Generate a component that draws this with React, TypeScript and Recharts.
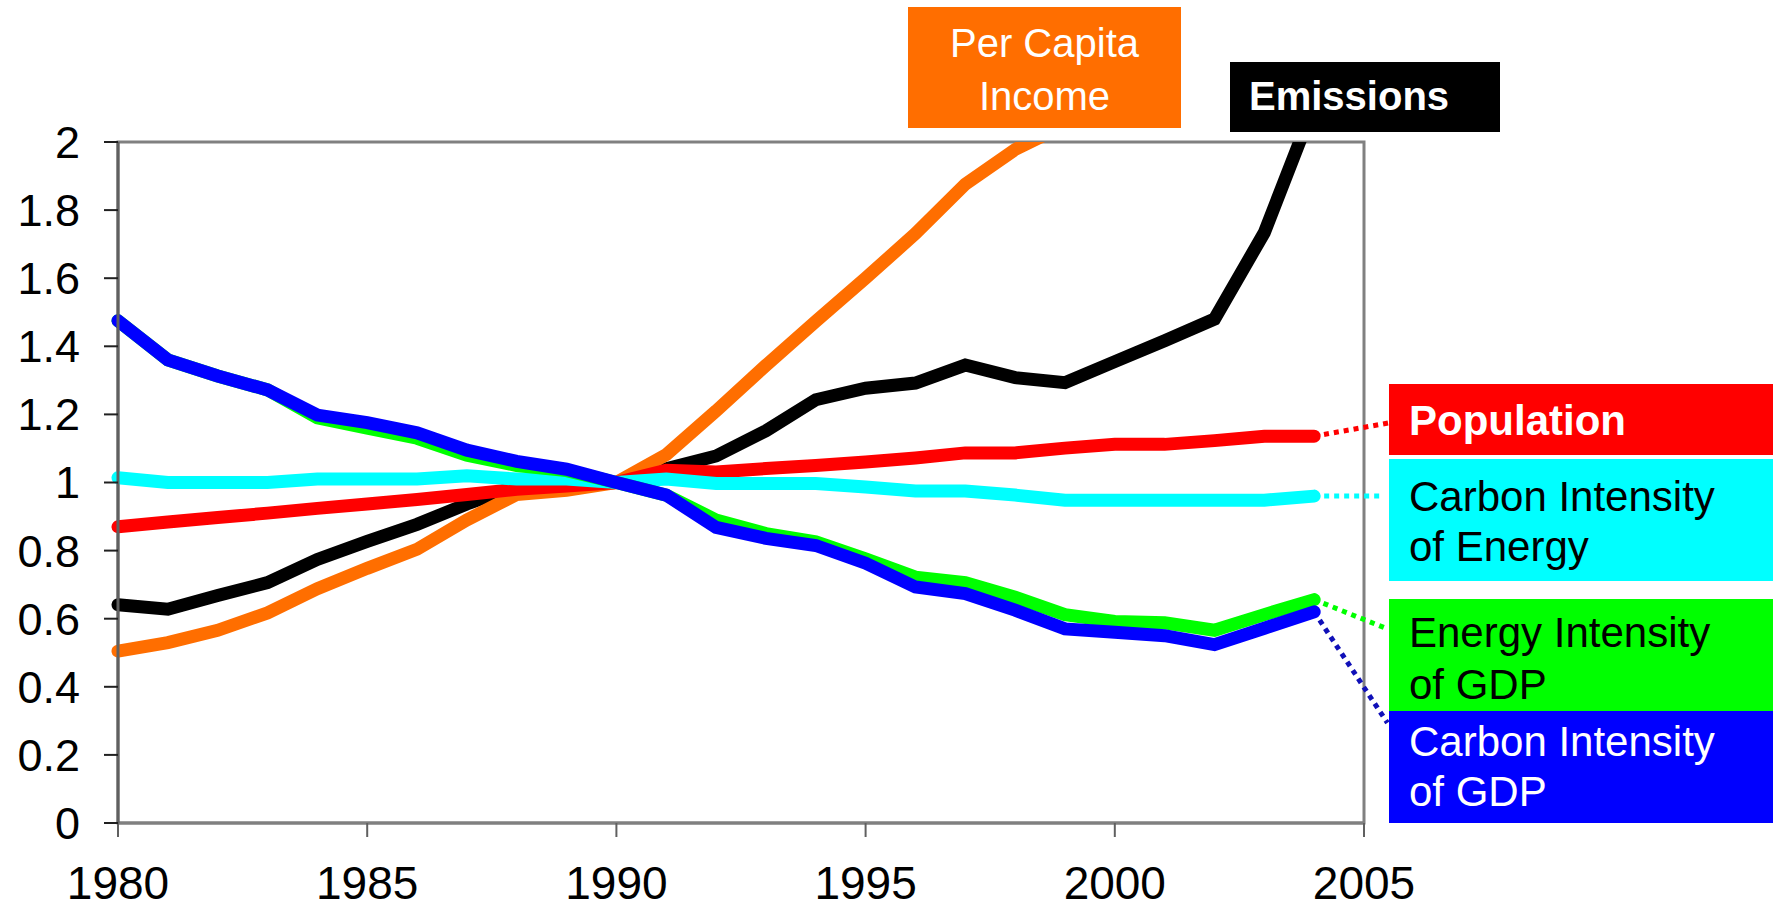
import React from "react";
import { LineChart, Line, XAxis, YAxis, ReferenceArea, ReferenceLine } from "recharts";

const years = [1980, 1981, 1982, 1983, 1984, 1985, 1986, 1987, 1988, 1989, 1990, 1991, 1992, 1993, 1994, 1995, 1996, 1997, 1998, 1999, 2000, 2001, 2002, 2003, 2004];

const emissions = [0.641, 0.628, 0.668, 0.706, 0.774, 0.827, 0.877, 0.937, 0.99, 0.995, 1.0, 1.04, 1.078, 1.152, 1.243, 1.277, 1.292, 1.345, 1.308, 1.293, 1.355, 1.416, 1.48, 1.734, 2.11];
const perCapitaIncome = [0.505, 0.53, 0.566, 0.617, 0.688, 0.748, 0.804, 0.89, 0.965, 0.977, 1.0, 1.082, 1.21, 1.344, 1.473, 1.6, 1.731, 1.876, 1.978, 2.05, null, null, null, null, null];
const population = [0.87, 0.884, 0.897, 0.91, 0.924, 0.937, 0.95, 0.965, 0.98, 0.99, 1.0, 1.036, 1.031, 1.041, 1.05, 1.06, 1.072, 1.087, 1.087, 1.101, 1.112, 1.112, 1.123, 1.136, 1.136];
const carbonIntensityEnergy = [1.014, 1.0, 1.0, 1.0, 1.01, 1.01, 1.01, 1.02, 1.01, 1.01, 1.0, 1.01, 0.997, 0.997, 0.997, 0.987, 0.975, 0.975, 0.963, 0.948, 0.948, 0.948, 0.948, 0.948, 0.96];
const energyIntensityGDP = [1.475, 1.36, 1.313, 1.272, 1.19, 1.16, 1.13, 1.08, 1.05, 1.035, 1.0, 0.963, 0.89, 0.85, 0.826, 0.776, 0.722, 0.706, 0.663, 0.612, 0.592, 0.588, 0.566, 0.612, 0.656];
const carbonIntensityGDP = [1.475, 1.36, 1.313, 1.272, 1.198, 1.176, 1.146, 1.095, 1.062, 1.039, 1.0, 0.963, 0.868, 0.836, 0.815, 0.763, 0.693, 0.674, 0.625, 0.57, 0.56, 0.55, 0.524, 0.572, 0.62];

const xTicks = [1980, 1985, 1990, 1995, 2000, 2005];
const yTicks = [0, 0.2, 0.4, 0.6, 0.8, 1, 1.2, 1.4, 1.6, 1.8, 2];

// leader lines: last data point -> label box edge (data units)
const leaderTargets = [
  { key: "pop", color: "#FF0000", x: 2005.5, y: 1.175, from: population },
  { key: "cie", color: "#00FFFF", x: 2005.38, y: 0.96, from: carbonIntensityEnergy },
  { key: "eig", color: "#00FF00", x: 2005.42, y: 0.573, from: energyIntensityGDP },
  { key: "cig", color: "#1010B8", x: 2005.47, y: 0.294, from: carbonIntensityGDP },
];

const data = years.map((year, i) => ({
  year,
  emissions: emissions[i],
  income: perCapitaIncome[i],
  population: population[i],
  cie: carbonIntensityEnergy[i],
  eig: energyIntensityGDP[i],
  cig: carbonIntensityGDP[i],
}));

const font = "'Liberation Sans', Arial, Helvetica, sans-serif";

const boxBase: React.CSSProperties = {
  position: "absolute",
  boxSizing: "border-box",
  fontFamily: font,
  fontSize: 42,
  lineHeight: "50px",
  whiteSpace: "nowrap",
};

const LW = 13;

export default function App() {
  const lastIdx = years.length - 1;
  return (
    <div style={{ position: "absolute", left: 0, top: 0, width: 1777, height: 911, background: "#fff", fontFamily: font }}>
      <LineChart
        width={1777}
        height={911}
        data={data}
        margin={{ top: 142, right: 413, bottom: 0, left: 0 }}
      >
        <XAxis
          dataKey="year"
          type="number"
          domain={[1980, 2005]}
          ticks={xTicks}
          height={88}
          tickSize={14}
          tickMargin={29}
          tick={{ fontSize: 46, fill: "#000" }}
          tickLine={{ stroke: "#606060", strokeWidth: 2 }}
          axisLine={{ stroke: "#808080", strokeWidth: 3 }}
        />
        <YAxis
          type="number"
          domain={[0, 2]}
          ticks={yTicks}
          allowDataOverflow
          width={118}
          tickSize={14}
          tickMargin={24}
          tick={{ fontSize: 45, fill: "#000" }}
          tickLine={{ stroke: "#202020", strokeWidth: 2 }}
          axisLine={{ stroke: "#606060", strokeWidth: 3 }}
        />
        <ReferenceArea x1={1980} x2={2005} y1={0} y2={2} fill="none" stroke="#808080" strokeWidth={3} ifOverflow="visible" />
        {leaderTargets.map((t) => (
          <ReferenceLine
            key={t.key}
            segment={[
              { x: years[lastIdx], y: t.from[lastIdx] },
              { x: t.x, y: t.y },
            ]}
            stroke={t.color}
            strokeWidth={5}
            strokeDasharray="5 5"
            ifOverflow="visible"
          />
        ))}
        <Line dataKey="emissions" stroke="#000000" strokeWidth={LW} dot={false} activeDot={false} strokeLinecap="round" isAnimationActive={false} />
        <Line dataKey="income" stroke="#FF6E00" strokeWidth={LW} dot={false} activeDot={false} strokeLinecap="round" isAnimationActive={false} />
        <Line dataKey="population" stroke="#FF0000" strokeWidth={LW} dot={false} activeDot={false} strokeLinecap="round" isAnimationActive={false} />
        <Line dataKey="cie" stroke="#00FFFF" strokeWidth={LW} dot={false} activeDot={false} strokeLinecap="round" isAnimationActive={false} />
        <Line dataKey="eig" stroke="#00FF00" strokeWidth={LW} dot={false} activeDot={false} strokeLinecap="round" isAnimationActive={false} />
        <Line dataKey="cig" stroke="#0000FF" strokeWidth={LW} dot={false} activeDot={false} strokeLinecap="round" isAnimationActive={false} />
      </LineChart>

      <div style={{ ...boxBase, left: 908, top: 7, width: 273, height: 121, background: "#FF6E00", color: "#fff", fontSize: 40, lineHeight: "53px", paddingTop: 10, textAlign: "center" }}>
        Per Capita<br />Income
      </div>
      <div style={{ ...boxBase, left: 1230, top: 62, width: 270, height: 70, background: "#000", color: "#fff", fontSize: 40, fontWeight: "bold", lineHeight: "48px", paddingTop: 10, paddingLeft: 19 }}>
        Emissions
      </div>
      <div style={{ ...boxBase, left: 1389, top: 384, width: 384, height: 71, background: "#FF0000", color: "#fff", fontWeight: "bold", paddingTop: 12, paddingLeft: 20 }}>
        Population
      </div>
      <div style={{ ...boxBase, left: 1389, top: 459, width: 384, height: 122, background: "#00FFFF", color: "#000", paddingTop: 13, paddingLeft: 20 }}>
        Carbon Intensity<br />of Energy
      </div>
      <div style={{ ...boxBase, left: 1389, top: 599, width: 384, height: 112, background: "#00FF00", color: "#000", lineHeight: "52px", paddingTop: 8, paddingLeft: 20 }}>
        Energy Intensity<br />of GDP
      </div>
      <div style={{ ...boxBase, left: 1389, top: 711, width: 384, height: 112, background: "#0000FF", color: "#fff", paddingTop: 6, paddingLeft: 20 }}>
        Carbon Intensity<br />of GDP
      </div>
    </div>
  );
}
